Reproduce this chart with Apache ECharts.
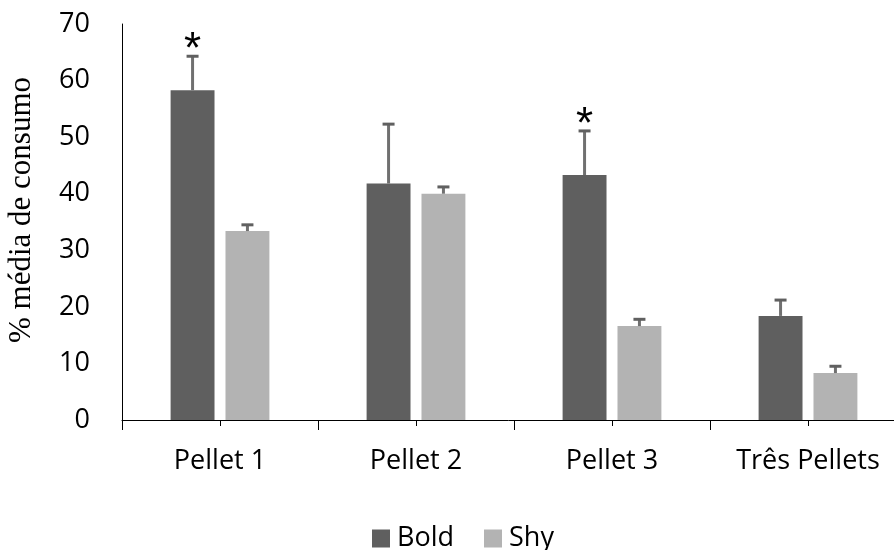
<!DOCTYPE html>
<html>
<head>
<meta charset="utf-8">
<script src="https://cdn.jsdelivr.net/npm/echarts@6/dist/echarts.min.js"></script>
<style>html,body{margin:0;padding:0;background:#fff}#c{width:894px;height:550px}</style>
</head>
<body>
<div id="c"></div>
<script>
var categories = ['Pellet 1', 'Pellet 2', 'Pellet 3', 'Três Pellets'];
var boldValues = [58.3, 41.8, 43.3, 18.4];
var boldErrors = [6.0, 10.5, 7.8, 2.8];
var shyValues = [33.4, 40.0, 16.6, 8.3];
var shyErrors = [1.1, 1.2, 1.2, 1.2];
var significance = ['*', '', '*', ''];
var yTicks = [0, 10, 20, 30, 40, 50, 60, 70];

var BAR_FRAC = 0.224, GAP_FRAC = 0.25;
var FONT = 'Open Sans';

function errData(vals, errs, marks) {
  return vals.map(function (v, i) { return [i, v, v + errs[i], marks ? marks[i] : '']; });
}

function errRender(side) {
  return function (params, api) {
    var i = api.value(0);
    var base = api.coord([i, api.value(1)]);
    var top = api.coord([i, api.value(2)]);
    var band = api.size([1, 0])[0];
    var bw = band * BAR_FRAC;
    var off = (bw + bw * GAP_FRAC) / 2 * side;
    var x = base[0] + off;
    var children = [
      { type: 'line', shape: { x1: x, y1: base[1], x2: x, y2: top[1] }, style: { stroke: '#707070', lineWidth: 3 } },
      { type: 'line', shape: { x1: x - 6, y1: top[1], x2: x + 6, y2: top[1] }, style: { stroke: '#606060', lineWidth: 3 } }
    ];
    var mark = api.value(3);
    if (mark) {
      children.push({ type: 'text', x: x, y: top[1] - 5, style: { text: mark, fill: '#000', font: '44px "Liberation Sans"', align: 'center', verticalAlign: 'middle' } });
    }
    return { type: 'group', children: children };
  };
}

var chart = echarts.init(document.getElementById('c'), null, { renderer: 'canvas' });
chart.setOption({
  animation: false,
  backgroundColor: '#fff',
  grid: { left: 122, width: 784, top: 24, bottom: 130, containLabel: false, outerBoundsMode: 'none' },
  legend: {
    left: 372, top: 525, padding: 0, itemWidth: 18, itemHeight: 18, itemGap: 30,
    icon: 'rect',
    textStyle: { fontFamily: FONT, fontSize: 27, color: '#000', padding: [0, 0, 0, 2] },
    data: ['Bold', 'Shy']
  },
  graphic: [{
    type: 'text', x: 22, y: 210, rotation: Math.PI / 2,
    style: { text: '% média de consumo', font: '31px "Liberation Serif"', fill: '#000', align: 'center', verticalAlign: 'middle' }
  }],
  xAxis: [{
    type: 'category', data: categories, position: 'bottom',
    axisLine: { lineStyle: { color: '#000', width: 1 } },
    axisTick: { show: true, interval: 0, length: 10, lineStyle: { color: '#000' } },
    axisLabel: { fontFamily: FONT, fontSize: 27, color: '#000', margin: 28 }
  }, {
    type: 'category', data: categories, position: 'bottom', gridIndex: 0,
    axisLine: { show: false },
    axisTick: { show: true, alignWithLabel: true, length: 6, lineStyle: { color: '#000' } },
    axisLabel: { show: false }
  }],
  yAxis: {
    type: 'value', min: 0, max: 70, interval: 10,
    axisLine: { show: true, lineStyle: { color: '#000' } },
    axisTick: { show: false },
    splitLine: { show: false },
    axisLabel: { fontFamily: FONT, fontSize: 27, color: '#000', margin: 32,
      formatter: function (v) { return yTicks.indexOf(v) >= 0 ? String(v) : ''; } }
  },
  series: [{
    name: 'Bold', type: 'bar', data: boldValues, barWidth: (BAR_FRAC * 100) + '%', barGap: (GAP_FRAC * 100) + '%',
    itemStyle: { color: '#5f5f5f' }
  }, {
    name: 'Shy', type: 'bar', data: shyValues, barWidth: (BAR_FRAC * 100) + '%', barGap: (GAP_FRAC * 100) + '%',
    itemStyle: { color: '#b3b3b3' }
  }, {
    type: 'custom', renderItem: errRender(-1), data: errData(boldValues, boldErrors, significance), z: 5,
    encode: { x: 0, y: [1, 2] }
  }, {
    type: 'custom', renderItem: errRender(1), data: errData(shyValues, shyErrors, null), z: 5,
    encode: { x: 0, y: [1, 2] }
  }]
});
</script>
</body>
</html>
